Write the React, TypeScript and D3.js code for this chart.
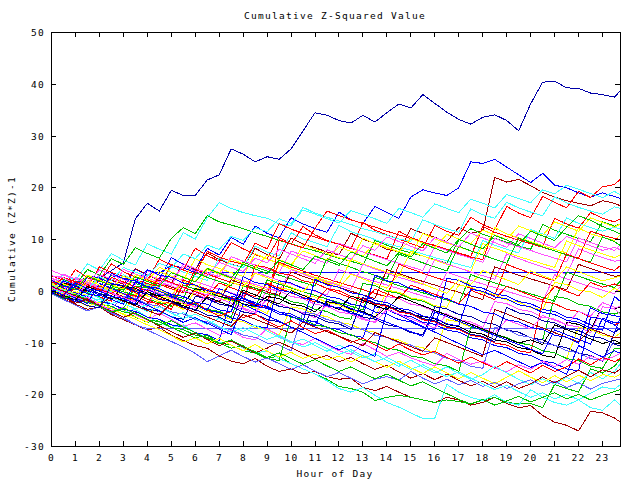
import React from "react";
import * as d3 from "d3";

const hours = [0,0.5,1,1.5,2,2.5,3,3.5,4,4.5,5,5.5,6,6.5,7,7.5,8,8.5,9,9.5,10,10.5,11,11.5,12,12.5,13,13.5,14,14.5,15,15.5,16,16.5,17,17.5,18,18.5,19,19.5,20,20.5,21,21.5,22,22.5,23,23.5,23.75];

const xTickLabels = [0,1,2,3,4,5,6,7,8,9,10,11,12,13,14,15,16,17,18,19,20,21,22,23];
const yTickLabels = [-30,-20,-10,0,10,20,30,40,50];

const s01 = [0,-0.5,1,3,2.5,4,5.5,14, 17,15.5,19.5,18.5,18.5,21.5,22.5,27.5, 26.5,25,26,25.5,27.5,31,34.5,34, 33,32.5,34,32.7,34.5,36.2,35.4,38, 36.3,34.6,33.2,32.3,33.6,34.1,33,31, 36.2,40.4,40.6,39.3,39.2,38.3,38,37.5, 38.8];
const s02 = [1,0.2,-0.3,-1.2,2.4,1.1,0.6,4.3, 3.1,2.4,6.5,5.2,4.1,8.3,7,10.4, 9.1,12.6,11.2,10.3,14.2,13,12.1,11.4, 15.3,13.8,13.1,16.4,15.2,14.1,18.2,19.6, 19,18.5,20,25,24.7,25.5,24,22.5, 21,22.8,20.5,20,19,18.2,19,18.3, 17.9];
const s03 = [0,2.3,1.4,0.6,3.2,2.1,1.4,4.4, 3.2,2.1,1.6,5.3,4.2,7.4,6.1,5.2, 4.6,8.3,7.1,6.2,10.3,9.1,8.4,7.6, 7,11.2,10.1,9.2,8.1,7.6,12.1,11.2, 10.4,9.6,12.3,11.2,11.7,22,21.1,21.6, 20.4,19.1,18.2,17.5,17,16.5,17.5,17, 16.5];
const s04 = [-0.5,-1.5,-2.5,-3.5,-3,-4.5,-5.5,-6.5, -7.5,-7,-8.5,-9.5,-10.5,-11,-12.5,-13.5, -14,-13,-14.5,-15.5,-15,-16,-15.5,-16.5, -17,-16.8,-18.6,-19.2,-18.4,-19.5,-20.5,-21, -21.5,-20.5,-21,-22,-21.5,-20.5,-21.7,-22.5, -22.1,-24,-25.3,-25.9,-27,-23.2,-23.5,-24.5, -25.3];
const s05 = [0,-1,-2,-1.5,-3,-4,-3.5,-5, -6,-5.5,-7,-8,-9,-8.5,-10,-11, -10.5,-12,-13,-12.5,-14,-15,-16,-17, -18.4,-18.8,-19.5,-21.1,-20.5,-20.1,-20.5,-21, -21.5,-21,-21.3,-21.8,-21,-20.5,-21.5,-21.7, -21.7,-22.5,-18,-18.8,-19.5,-15,-15.8,-14.5, -13];
const s06 = [1,0,-1,-2,-1.5,-3,-4,-3.5, -5,-6,-7,-6.5,-8,-9,-10,-9.5, -11,-12,-11.5,-13,-14,-15,-16,-17.3, -18.8,-19.5,-18.6,-20.1,-21.5,-22.4,-23.5,-24.6, -24.5,-18,-19.5,-20.5,-21.1,-20,-21.5,-22, -19,-20.5,-21.5,-22,-21,-22.5,-23,-21, -22];
const s07 = [0.5,0,2,1.5,1,3,2.5,2, 4,3.5,5,4.5,3.6,3.6,3.6,3.6, 3.6,3.6,3.6,3.6,3.6,3.6,3.6,3.6, 3.6,3.6,3.6,3.6,3.6,3.6,3.6,3.6, 3.6,3.6,3.6,3.6,3.6,3.6,3.6,3.6, 3.6,3.6,3.6,3.6,3.6,3.6,3.6,3.6, 3.6];
const s08 = [0,-1,-2,-1.5,-3,-4,-5,-6.5, -7.2,-7.2,-7.2,-7.2,-7.2,-7.2,-7.2,-7.2, -7.2,-7.2,-7.2,-7.2,-7.2,-7.2,-7.2,-7.2, -7.2,-7.2,-7.2,-7.2,-7.2,-7.2,-7.2,-7.2, -7.2,-7.2,-7.2,-7.2,-7.2,-7.2,-7.2,-7.2, -7.2,-7.2,-7.2,-7.2,-7.2,-7.2,-7.2,-7.2, -7.2];
const s09 = [2,0.8,4.2,2.6,1.9,5.3,3.8,2.7, 2.1,6.2,5.1,4.2,8.3,6.9,5.8,9.4, 8.2,7.1,6.3,10.4,9.1,12.5,10.9,9.8, 9.1,8.2,13.3,11.8,10.9,10.1,9.2,8.4, 12.7,11.6,10.8,14.3,12.9,11.9,16.4,15.1, 14.2,18.3,17.2,16.1,19.3,18.1,20.2,20.6, 21.7];
const s10 = [1,3.2,2.1,5.3,4.1,7.3,6,5.1, 9.2,8.1,7.2,11.3,10.1,14.2,17.1,16, 15.2,14.6,14.1,13,12.6,16.2,15.1,14.3, 13.6,12.9,12.1,11.5,10.8,10.1,9.6,13.8, 12.9,12.1,11.4,15.9,14.8,14.1,17.2,16.1, 15.3,14.6,18.2,17.1,16.2,15.5,14.9,16.3, 16];
const s11 = [3,2.1,1.5,0.6,4.7,3.6,2.9,2.2, 1.5,0.9,5.2,4.1,3.3,7.7,6.6,5.8, 5.2,9.3,8.2,13.1,12,11.2,10.5,9.7, 9.1,8.3,7.6,7,6.2,11.6,10.4,9.5, 8.9,8.1,7.3,6.6,6.1,12.2,11.1,10.2, 9.4,8.7,14.1,13,12.2,15.2,14.1,13.4, 14];
const s12 = [0,2.3,1.2,4.2,3.1,6.3,5.2,8.4, 7.3,6.4,10.2,12.3,11.1,14.6,13.4,12.8, 12.1,11.3,10.6,9.8,9.2,8.4,7.8,7.1, 6.4,5.8,5.1,9.8,8.9,8.1,7.4,6.8, 6.1,5.4,9.9,12.1,11,10.2,9.5,8.8, 8.1,12.9,11.8,11,10.2,9.6,13.4,12.6, 13];
const s13 = [0.5,-0.4,-1.1,1.8,0.7,-0.1,3.2,2.1, 1.3,0.6,4.8,3.7,2.9,2.1,6.4,5.2, 4.5,8.7,7.6,6.8,11.3,10.1,9.4,8.6, 12.7,11.5,10.8,10,9.2,8.6,7.9,7.2, 6.5,5.9,5.2,4.6,9.8,8.9,8.1,7.4, 11.9,11.1,10.2,14.2,13.1,12.3,11.6,12.4, 12];
const s14 = [1.5,0.6,-0.1,-0.8,2.7,1.6,0.8,0.1, -0.6,3.8,2.9,2.1,6.3,5.1,4.4,3.6, 2.9,7.3,6.2,5.4,4.6,9.2,8.1,7.3, 6.5,5.8,10.3,9.1,8.4,7.6,6.9,11.2, 10.1,9.3,8.6,7.8,7.1,12.3,11.1,10.3, 9.6,8.8,8.1,7.4,12.2,11.1,10.4,9.8, 11];
const s15 = [-0.5,-1.4,0.8,-0.2,-1.1,-1.9,1.2,0.3, -0.5,-1.3,-2.1,2.2,1.2,0.4,-0.4,-1.2, -1.9,-2.6,-3.3,10,9.1,8.4,12.2,15.5, 14.6,13.8,13.1,12.4,11.6,10.9,10.2,9.5, 8.8,8.1,7.4,6.7,12.5,11.4,10.6,9.9, 9.2,8.5,7.8,7.1,6.4,11.6,10.8,10.2, 10];
const s16 = [4,3.1,2.4,1.6,0.9,0.2,4.2,3.3, 2.5,1.8,1.1,5.3,4.4,3.6,2.8,6.7, 5.8,5.1,4.3,3.6,7.8,6.9,6.2,5.4, 9.3,8.4,7.6,6.9,6.1,5.4,4.7,4, 8.7,7.9,7.1,6.4,5.6,10.2,9.3,8.6, 7.9,7.1,6.4,5.7,10.3,9.4,8.6,7.9, 9];
const s17 = [2,1.2,0.4,-0.3,-1,3.2,2.3,1.5, 0.7,0,-0.7,-1.4,3.6,2.7,1.9,1.1, 5.6,4.7,3.9,3.1,2.4,1.7,1,6.3, 5.4,4.6,3.8,3.1,2.4,7.2,6.3,5.5, 4.7,3.9,8.7,7.8,7,6.2,5.4,10.3, 9.4,8.6,7.8,7,6.3,5.6,10.5,9.6, 8.8];
const s18 = [0,-0.8,-1.5,1.7,0.9,0.1,-0.6,3.2, 2.3,1.5,0.8,0.1,-0.6,4.2,3.3,2.5, 1.7,1,0.3,5.2,4.3,3.5,2.7,2, 1.3,6.2,5.3,4.5,3.7,3,7.7,6.8, 6,5.2,4.5,3.8,9.2,8.3,7.5,6.7, 6,5.3,4.6,9.7,8.8,8,7.2,6.5, 7];
const s19 = [1,0.2,2.7,1.8,1,0.3,-0.4,-1.1, 3.2,2.3,1.5,0.7,0,-0.7,3.7,2.8, 2,1.3,0.6,-0.1,4.2,3.3,2.5,1.8, 1.1,0.4,5.2,4.3,3.5,2.7,2,1.3, 6.2,5.3,4.5,3.7,3,2.3,7.2,6.3, 5.5,4.7,4,3.3,8.2,7.3,6.5,5.8, 6];
const s20 = [0.5,2.7,1.8,1,0.2,-0.5,-1.2,-1.9, 2.2,1.3,0.5,-0.3,4.2,3.3,2.5,1.7, 1,0.3,-0.4,5.6,4.7,3.9,3.1,2.4, 1.7,1,0.3,-0.4,-1.1,5.2,4.3,3.5, 2.7,2,1.3,0.6,-0.1,-0.8,5.2,4.3, 3.5,2.7,2,7.2,6.3,5.5,4.7,4, 5];
const s21 = [-0.5,-1.3,-2,1.2,0.4,-0.3,-1,-1.7, -2.4,1.6,0.8,0,-0.7,-1.4,-2.1,2.2, 1.4,0.6,-0.1,-0.8,3.7,2.9,2.1,1.4, 0.7,0,-0.7,-1.4,4.2,3.4,2.6,1.9, 1.2,0.5,-0.2,-0.9,-1.6,4.7,3.9,3.1, 2.4,1.7,1,0.3,5.2,4.4,3.6,2.9, 3];
const s22 = [0,-0.7,-1.5,-2.2,-2.9,0.7,-0.1,-0.8, -1.5,-2.2,-2.9,1.2,0.4,-0.3,-1,-1.7, -2.4,-3.1,2.2,1.4,0.6,-0.1,-0.8,-1.5, -2.2,-2.9,-3.6,2.7,1.9,1.1,0.4,-0.3, -1,-1.7,-2.4,3.2,2.4,1.6,0.9,0.2, -0.5,-1.2,-1.9,3.7,2.9,2.1,1.4,0.7, 2];
const s23 = [2.5,1.7,0.9,0.2,3.2,2.4,1.6,0.9, 0.2,-0.5,-1.2,2.7,1.9,1.1,0.4,-0.3, -1,3.7,2.9,2.1,1.4,0.7,0,-0.7, 4.2,3.4,2.6,1.9,1.2,0.5,-0.2,-0.9, -1.6,3.7,2.9,2.1,1.4,0.7,0,-0.7, -1.4,-2.1,3.2,2.4,1.6,0.9,0.2,-0.5, 1];
const s24 = [0,-0.4,-1.5,-2,-2.9,-3.3,-4.4,-0.5, -0.9,-2,-2.4,-3.5,0.2,-0.3,-1.4,-1.8, -2.9,-3.2,-4.3,0.7,0.3,-0.8,-1.1,-2.2, -2.6,-3.7,-4.1,-5.2,0.2,-0.2,-1.3,-1.7, -2.8,-3.1,1.2,0.8,-0.3,-0.6,-1.7,-2.1, -3.2,-3.6,1.7,1.3,0.2,-0.1,-1.2,0.6, 0];
const s25 = [-0.5,-0.9,-2,3,2.6,1.5,1.1,0, 0.4,-0.7,-1.1,-2.2,-2.6,-3.7,-4.1,-5.2, -5.6,-6.7,-7.1,2,1.6,0.5,0.1,-1, -1.4,-2.5,-2.9,-4,-4.4,-5.5,-5.9,-7, -7.4,2.5,2.1,1,0.6,-0.5,-0.9,-2, -2.4,-3.5,-3.9,-5,-5.4,-6.5,-6.9,-8, -5];
const s26 = [0,1.5,1.1,0,-0.4,-1.5,1,0.6, -0.5,-0.9,-2,-2.4,0.5,0.1,-1,-1.4, -2.5,-2.9,-1,-1.4,-2.5,-2.9,-4,-2, -2.4,-3.5,-3.9,-5,-3,-3.4,-4.5,-4.9, -5.3,-6.4,-6.8,-7.9,-8.3,-9.4,-9.8,-10.9, -11.3,-12.4,-12.8,-6,-6.4,-7.5,-3,-3.4, -3];
const s27 = [1,0.6,-0.5,-0.9,-2,-2.4,-3.5,1, 0.6,-0.5,-0.9,-2,-2.4,-3.5,-3.9,-5, 1,0.6,-0.5,-0.9,-2,-2.4,-3.5,-3.9, -5,-5.4,1.5,1.1,0,-0.4,-1.5,-1.9, -3,-3.4,-4.5,-4.9,-6,-6.4,-7.5,-7.9, -9,-9.4,-1,-1.4,-2.5,-2.9,-4,-4.4, -4];
const s28 = [3,2.6,1.5,1.1,0,-0.4,-1.5,-1.9, -3,1.5,1.1,0,-0.4,-1.5,-1.9,-3, -3.4,-4.5,0.5,0.1,-1,-1.4,-2.5,-2.9, -4,-4.4,-5.5,-5.9,-1,-1.4,-2.5,-2.9, -4,-4.4,-5.5,-5.9,-7,-2,-2.4,-3.5, -3.9,-5,-5.4,-6.5,-6.9,-8,-3,-3.4, -4.5];
const s29 = [0,-0.4,-1.5,-1.9,1,0.6,-0.5,-0.9, -2,-2.4,-3.5,1.5,1.1,0,-0.4,-1.5, -1.9,5,4.6,3.5,3.1,2,1.6,0.5, 0.1,-1,-1.4,-2.5,-2.9,-4,-4.4,-5.5, -5.9,-7,-7.4,-8.5,-8.9,-10,-10.4,-11.5, -11.9,-2,-2.4,-3.5,-3.9,-5,-5.4,-6.5, -6];
const s30 = [-0.5,-0.9,1,0.6,-0.5,-0.9,-2,-2.4, -3.5,-3.9,-5,-5.4,-1,-1.4,-2.5,-2.9, -4,-4.4,-5.5,-5.9,-7,-7.4,-2,-2.4, -3.5,-3.9,-5,-5.4,-6.5,-6.9,-8,-8.4, -3,-3.4,-4.5,-4.9,-6,-6.4,-7.5,-7.9, -9,-9.4,-10.5,-10.9,-12,-12.4,-13.5,-8, -7];
const s31 = [0,-0.4,-1.5,-1.9,-3,-3.4,-4.5,-4.9, -6,-1,-1.4,-2.5,-2.9,-4,-4.4,-5.5, -5.9,-7,-7.4,-8.5,-3,-3.4,-4.5,-4.9, -6,-6.4,-7.5,-7.9,-9,-9.4,-10.5,-10.9, -12,-5.5,-5.9,-7,-7.4,-8.5,-8.9,-10, -10.4,-11.5,-11.9,-13,-7,-7.4,-8.5,-8.9, -8];
const s32 = [1,0.6,-0.5,-0.9,-2,-2.4,-3.5,-3.9, -5,-5.4,-6.5,-6.9,-8,-8.4,-9.5,-1, -1.4,-2.5,-2.9,-4,-4.4,-5.5,-5.9,-7, -7.4,-8.5,-8.9,-3,-3.4,-4.5,-4.9,-6, -6.4,-7.5,-7.9,-9,-9.4,-10.5,-10.9,-12, -12.4,-13.5,-13.9,-15,-15.4,-5,-5.4,-6.5, -7.5];
const s33 = [0,-0.4,-1.5,-1.9,-3,-3.4,-1,-1.4, -2.5,-2.9,-4,-4.4,-5.5,-5.9,-7,-7.4, -8.5,-8.9,-10,-10.4,-11.5,-4,-4.4,-5.5, -5.9,-7,-7.4,-8.5,-8.9,-10,-10.4,-11.5, -11.9,-13,-13.4,-14.5,-14.9,-7,-7.4,-8.5, -8.9,-10,-10.4,-11.5,-11.9,-13,-13.4,-9.5, -10];
const s34 = [0.5,0.1,-1,-1.4,-2.5,-2.9,-4,-4.4, -5.5,-5.9,-7,-7.4,-8.5,-8.9,-10,-10.4, -11.5,-11.9,-13,-13.4,-5,-5.4,-6.5,-6.9, -8,-8.4,-9.5,-9.9,-11,-11.4,-12.5,-12.9, -14,-14.4,-15.5,-7,-7.4,-8.5,-8.9,-10, -10.4,-11.5,-11.9,-13,-13.4,-14.5,-14.9,-11, -11];
const s35 = [0.3,-0.5,-1.6,-1.2,-2.5,-3.8,-3.1,-4.5, -5.6,-4.2,-5.4,-6.8,-6.1,-7.3,-8.5,-7.6, -8.9,-9.4,-7.2,-8.6,-9.8,-10.3,-9.1,-10.4, -11.5,-12.2,-10.1,-11.3,-12.6,-11.8,-12.9,-13.7, -14.4,-12,-13.2,-14.1,-13.5,-14.8,-15.6,-14.2, -15.1,-13.5,-14.6,-13.2,-14.1,-12.5,-13.4,-12.6, -12];
const s36 = [1.8,0.9,2.4,1.3,0.5,-0.4,0.8,-0.3, -1.5,-2.7,-1.9,-3.1,-2.2,-3.6,-4.8,-3.9, -5.1,-4.4,-5.8,-6.9,-5.7,-7,-8.2,-7.5, -8.7,-9.9,-9.1,-10.4,-11.5,-10.2,-11.4,-12.3, -11.6,-12.8,-13.9,-12.7,-13.8,-14.9,-13.6,-14.7, -15.8,-14.3,-15.5,-14.6,-13.1,-14.2,-12.8,-13.6, -13];
const s37 = [0.6,-0.3,-1.4,-0.8,-2,-1.1,-2.3,-3.4, -2.6,-3.9,-5,-4.1,-5.3,-6.4,-5.2,-6.6, -7.8,-6.5,-7.7,-8.9,-10,-9.2,-10.5,-11.6, -10.4,-11.7,-12.9,-12.1,-13.4,-14.5,-13.3,-14.6, -15.8,-14.6,-15.9,-17,-16.1,-14.5,-15.8,-17, -18.1,-16.9,-18,-16.6,-17.8,-15.7,-16.9,-15.5, -14];
const s38 = [-0.2,-1.1,-2.3,-1.5,-2.8,-3.9,-5,-4.2, -5.5,-6.7,-7.8,-8.9,-8.1,-9.3,-10.5,-9.6, -10.8,-11.9,-11,-9.8,-10.9,-12,-13.1,-12.4, -13.6,-12.8,-14,-15.1,-14.3,-15.6,-16.8,-15.9, -17.1,-16,-17.2,-18.3,-17.4,-18.6,-17.5,-18.8, -17.9,-16.5,-17.7,-16.4,-15.3,-16.5,-15.2,-15.8, -15];
const s39 = [0.4,-0.6,-1.7,-2.9,-2.1,-3.3,-4.5,-5.4, -6.5,-7.4,-8.6,-9.8,-9,-10.2,-9.1,-10.4, -11.5,-10.3,-11.6,-12.7,-11.8,-13,-12.1,-13.3, -12.5,-13.7,-12.4,-13.6,-14.7,-13.5,-14.8,-15.9, -14.6,-15.8,-16.9,-15.7,-16.8,-17.9,-16.6,-15.4, -16.6,-17.7,-16.3,-17.5,-16.2,-17.3,-16.1,-16.6, -16];
const s40 = [-0.5,-1.6,-2.7,-3.8,-3,-4.2,-5.3,-6.4, -7.5,-8.6,-9.7,-10.8,-12,-13.6,-12.5,-11.4, -12.6,-13.7,-12.9,-14,-15.1,-14.2,-15.4,-16.5, -15.7,-16.8,-17.9,-17,-16.5,-17.2,-15.5,-16.8, -17.9,-17,-18.1,-17.2,-18.4,-17.6,-18.8,-17.9, -17.1,-18.3,-17.4,-18.6,-17.7,-18.9,-17.8,-17.2, -17];
const s41 = [1.2,0.3,-0.8,-0.1,-1.3,-2.4,-1.6,-2.8, -3.9,-3,-4.2,-5.3,-4.4,-5.6,-6.8,-7.9, -7,-8.2,-9.3,-8.5,-9.7,-10.8,-9.9,-11.1, -12.2,-11.3,-12.5,-13.6,-12.8,-14,-15.1,-14.2, -15.4,-16.5,-15.6,-16.8,-17.9,-19,-18.2,-19.4, -20.5,-19.6,-20.8,-19.9,-21,-19.7,-18.5,-18.9, -18];
const s42 = [-0.3,-1.4,-0.6,-1.8,-2.9,-4,-3.2,-4.3, -5.4,-6.5,-5.7,-6.9,-8,-9.1,-10.2,-9.4, -10.6,-11.7,-12.8,-11.9,-13,-14.1,-13.2,-14.4, -15.5,-14.6,-15.8,-16.9,-16,-17.2,-18.3,-17.5, -18.7,-19.8,-20.9,-21.8,-20.9,-22,-21.2,-20.3, -21.4,-20.5,-19.6,-20.8,-19.9,-21,-20.1,-19.4, -19];
const s43 = [0.8,-0.2,-1.3,-2.4,1.5,0.6,-0.5,-1.6, -2.7,-3.8,-4.9,-6,-5.1,-6.2,-7.3,-8.4, -2.5,-3.6,-4.7,-5.8,-6.9,-8,-9.1,-10.2, -11.3,-10.4,-11.5,-12.6,-3.5,-4.6,-5.7,-6.8, -7.9,-9,-10.1,-11.2,-12.3,-11.4,-12.5,-13.6, -14.7,-13.8,-14.9,-16,-10.5,-11.6,-12.7,-11.5, -12];
const s44 = [0.5,2.1,1.2,0.4,2.8,2,4.6,3.7, 2.9,5.4,4.5,7.2,6.3,8.9,8.1,10.6, 9.8,12.3,11.5,14,13.1,15.7,14.9,14, 13.2,15.6,14.8,14,13.1,16,15.2,14.3, 16.9,16,15.2,17.8,17,16.1,18.7,17.9, 17.1,19.6,18.8,20.5,19.7,18.9,18.1,19.3, 18.6];
const s45 = [2.2,1.4,0.5,3.1,2.2,1.3,0.4,2.9, 2,4.6,3.7,2.8,1.9,4.5,3.6,6.2, 5.3,4.4,7,6.1,5.2,7.8,6.9,6, 8.6,7.7,6.8,9.4,8.5,7.6,10.2,9.3, 8.4,11,10.1,9.2,11.8,10.9,10,12.6, 11.7,10.8,13.4,12.5,11.6,14.2,13.3,12.4, 13];
const s46 = [1.7,3.3,2.4,1.5,4.1,3.2,2.3,1.4, 4,3.1,2.2,4.8,3.9,3,5.6,4.7, 3.8,6.4,5.5,8.1,7.2,6.3,5.4,8, 7.1,6.2,8.8,7.9,10.5,9.6,8.7,7.8, 10.4,9.5,8.6,11.2,10.3,9.4,8.5,11.1, 10.2,9.3,8.4,10.6,9.7,8.8,7.9,8.5, 8];
const s47 = [-0.4,1.2,0.3,2.9,2,1.1,0.2,2.8, 1.9,1,3.6,2.7,1.8,4.4,3.5,2.6, 5.2,4.3,3.4,6,5.1,4.2,6.8,5.9, 5,7.6,6.7,5.8,4.9,7.5,6.6,9.2, 8.3,7.4,10,9.1,8.2,10.8,9.9,9, 11.6,10.7,9.8,12.4,14.6,13.7,12.5,11.6, 11];
const s48 = [0.2,-0.7,1.9,1,0.1,2.7,1.8,0.9, 0,2.6,1.7,0.8,-0.1,-1,1.6,0.7, -0.2,-1.1,1.5,0.6,-0.3,-1.2,-2.1,0.5, -0.4,-1.3,-2.2,0.4,-0.5,-1.4,1.2,0.3, -0.6,-1.5,-2.4,0.2,-0.7,-1.6,1,0.1, -0.8,-1.7,0.9,0,-0.9,1.7,0.8,1.4, 1];
const s49 = [-0.6,2,1.1,0.2,-0.7,-1.6,-2.5,1.8, 0.9,0,-0.9,-1.8,-2.7,-3.6,0.5,-0.4, -1.3,-2.2,-3.1,-4,-4.9,-5.8,-6.7,-1.5, -2.4,-3.3,-4.2,-5.1,-6,-6.9,-7.8,-8.7, -4,-4.9,-5.8,-6.7,-7.6,-8.5,-9.4,-10.3, -11.2,-12.1,-7.5,-8.4,-9.3,-10.2,-5.2,-6.1, -6];
const s50 = [0.9,0,-0.9,-1.8,-2.7,-1,-1.9,-2.8, -3.7,-4.6,-2.3,-3.2,-4.1,-5,-5.9,-6.8, -4.5,-5.4,-6.3,-7.2,-8.1,-6,-6.9,-7.8, -8.7,-9.6,-10.5,-8,-8.9,-9.8,-10.7,-11.6, -9,-9.9,-10.8,-11.7,-12.6,-3.5,-4.4,-5.3, -6.2,-7.1,-8,-8.9,-9.8,-7.2,-8.1,-9, -9];
const s51 = [0.7,-0.2,-1.1,1.5,0.6,-0.3,-1.2,-2.1, 0.5,-0.4,-1.3,-2.2,-3.1,-0.5,-1.4,-2.3, -3.2,-4.1,-1.5,-2.4,-3.3,-4.2,-5.1,-2.5, -3.4,-4.3,-5.2,-6.1,-3.5,-4.4,-5.3,-6.2, -7.1,-4.5,-5.4,-6.3,-7.2,-8.1,-5.5,-6.4, -7.3,-4.7,-5.6,-6.5,-3.9,-4.8,-2.2,-3.1, -3];
const s52 = [1.3,0.4,-0.5,2.1,1.2,0.3,2.9,2, 1.1,0.2,-0.7,1.9,1,0.1,-0.8,1.8, 0.9,3.5,2.6,1.7,0.8,-0.1,2.5,1.6, 0.7,3.3,2.4,1.5,0.6,3.2,2.3,1.4, 0.5,-0.4,2.2,1.3,4,3.1,2.2,1.3, 3.9,3,2.1,4.7,3.8,2.9,2,2.6, 3];
const s53 = [0.1,-0.8,-1.7,0.9,0,-0.9,-1.8,-2.7, -0.1,-1,-1.9,-2.8,-3.7,-1.1,-2,-2.9, 0.2,-0.7,-1.6,-2.5,0.1,-0.8,-1.7,-2.6, -3.5,-0.9,-1.8,-2.7,-3.6,-1,-1.9,-2.8, -3.7,-4.6,-5.5,-6.4,-7.3,-8.2,-9.1,-10, -9.4,-10.3,-6.5,-7.4,-8.3,-9.2,-10.1,-9.5, -10];
const s54 = [0.3,-0.8,1.6,0.5,0.1,-1,-1.4,-2.5, 4.2,3.1,2.7,1.6,1.2,0.1,-0.3,-1.4, -1.8,-2.9,-3.3,-4.4,-4.8,-5.9,2.3,1.2, 0.8,-0.3,-0.7,-1.8,-2.2,-3.3,-3.7,-4.8, -5.2,-6.3,-6.7,0.4,0,-1.1,-1.5,-2.6, -3,-4.1,-4.5,-5.6,-6,-7.1,-7.5,-1, -2];
const s55 = [-0.2,-1.3,-1.7,-2.8,-3.2,1.4,1,-0.1, -0.5,-1.6,-2,-3.1,-3.5,-4.6,-5,-6.1, -0.3,-1.4,-1.8,-2.9,-3.3,-4.4,-4.8,-5.9, -6.3,-7.4,-1.2,-2.3,-2.7,-3.8,-4.2,-5.3, -5.7,-6.8,-7.2,-8.3,-8.7,-9.8,-3.1,-4.2, -4.6,-5.7,-6.1,-7.2,-7.6,-8.7,-9.1,-10.2, -10.6];
const s56 = [2.1,1,0.6,-0.5,-0.9,3.5,2.4,2, 0.9,0.5,-0.6,-1,-2.1,-2.5,-3.6,-4, 2.8,1.7,1.3,0.2,-0.2,-1.3,-1.7,-2.8, -3.2,-4.3,-4.7,3.1,2,1.6,0.5,0.1, -1,-1.4,-2.5,-2.9,-4,-4.4,-5.5,-5.9, -7,-7.4,-8.5,-8.9,-10,-3.2,-4.3,-4.7, -5];

const seriesList = [s01,s02,s03,s04,s05,s06,s07,s08,s09,s10,s11,s12,s13,s14,s15,s16,s17,s18,s19,s20,s21,s22,s23,s24,s25,s26,s27,s28,s29,s30,s31,s32,s33,s34,s35,s36,s37,s38,s39,s40,s41,s42,s43,s44,s45,s46,s47,s48,s49,s50,s51,s52,s53,s54,s55,s56];

const RED = "#ff0000", GRN = "#00c000", BLU = "#0000ff", NAV = "#0000a8", MAG = "#ff50ff",
  CYN = "#40ffff", DRD = "#a00000", YEL = "#ffff00", BLK = "#000000", SLT = "#6060ff";

const seriesColors = [NAV,BLU,DRD,DRD,GRN,CYN,BLU,SLT,RED,CYN,RED,GRN,CYN,YEL,RED,MAG,GRN,YEL,MAG,RED,DRD,GRN,MAG,YEL,BLU,BLK,GRN,MAG,RED,NAV,YEL,BLU,SLT,GRN,MAG,RED,CYN,DRD,YEL,SLT,CYN,GRN,BLU,CYN,YEL,MAG,GRN,RED,BLU,DRD,MAG,YEL,BLK,BLU,NAV,BLU];

const FONT = "'DejaVu Sans Mono', monospace";

export default function App() {
  const W = 640, H = 480;
  const left = 51, right = 620, top = 32, bottom = 446;
  const x = d3.scaleLinear().domain([0, 23.75]).range([left, right]);
  const y = d3.scaleLinear().domain([-30, 50]).range([bottom, top]);
  const line = d3
    .line<number>()
    .x((_, i) => x(hours[i]) + 0.5)
    .y((d) => y(d) + 0.5);
  const tickLen = 5;
  const textStyle = { fontFamily: FONT, fontSize: 9.5, letterSpacing: 1.28 } as const;

  return (
    <svg
      width={W}
      height={H}
      style={{ position: "absolute", left: 0, top: 0, background: "#fff" }}
    >
      <rect x={0} y={0} width={W} height={H} fill="#fff" />
      <defs>
        <clipPath id="plotclip">
          <rect x={left} y={top} width={right - left + 1} height={bottom - top + 1} />
        </clipPath>
      </defs>
      <g clipPath="url(#plotclip)">
        {seriesList.map((s, i) => (
          <path
            key={i}
            d={line(s) || ""}
            fill="none"
            stroke={seriesColors[i]}
            strokeWidth={1}
            shapeRendering="crispEdges"
          />
        ))}
      </g>
      <rect
        x={left + 0.5}
        y={top + 0.5}
        width={right - left}
        height={bottom - top}
        fill="none"
        stroke="#000"
        strokeWidth={1}
        shapeRendering="crispEdges"
      />
      {xTickLabels.map((t) => {
        const px = Math.round(x(t)) + 0.5;
        return (
          <g key={"x" + t}>
            <line x1={px} x2={px} y1={bottom} y2={bottom - tickLen} stroke="#000" shapeRendering="crispEdges" />
            <line x1={px} x2={px} y1={top} y2={top + tickLen} stroke="#000" shapeRendering="crispEdges" />
            <text x={px} y={461} textAnchor="middle" style={textStyle} fill="#000">
              {t}
            </text>
          </g>
        );
      })}
      {yTickLabels.map((t) => {
        const py = Math.round(y(t)) + 0.5;
        return (
          <g key={"y" + t}>
            <line x1={left} x2={left + tickLen} y1={py} y2={py} stroke="#000" shapeRendering="crispEdges" />
            <line x1={right} x2={right - tickLen} y1={py} y2={py} stroke="#000" shapeRendering="crispEdges" />
            <text x={45} y={py + 3.5} textAnchor="end" style={textStyle} fill="#000">
              {t}
            </text>
          </g>
        );
      })}
      <text x={335} y={19} textAnchor="middle" style={textStyle} fill="#000">
        Cumulative Z-Squared Value
      </text>
      <text x={335} y={477} textAnchor="middle" style={textStyle} fill="#000">
        Hour of Day
      </text>
      <text
        transform={`translate(15,${(top + bottom) / 2}) rotate(-90)`}
        textAnchor="middle"
        style={textStyle}
        fill="#000"
      >
        Cumulative (Z*Z)-1
      </text>
    </svg>
  );
}
